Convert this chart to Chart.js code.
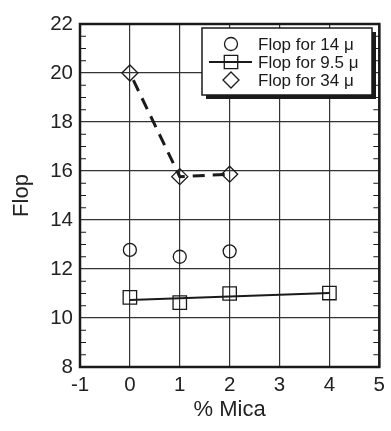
<!DOCTYPE html>
<html>
<head>
<meta charset="UTF-8">
<title>Flop vs % Mica</title>
<script src="https://cdn.jsdelivr.net/npm/chart.js"></script>
<style>
  body { margin: 0; background: #fff; }
  canvas { display: block; }
</style>
</head>
<body>
<canvas id="flopChart" width="391" height="431"></canvas>
<script>
// values
const mica14 = [0, 1, 2];
const flop14 = [12.78, 12.5, 12.72];
const mica95 = [0, 1, 2, 4];
const flop95 = [10.84, 10.63, 11.0, 11.02];
const micaFit95 = [0, 4];
const flopFit95 = [10.73, 11.02];
const mica34 = [0, 1, 2];
const flop34 = [20.0, 15.77, 15.87];

const xTicks = [-1, 0, 1, 2, 3, 4, 5];
const yTicks = [8, 10, 12, 14, 16, 18, 20, 22];
const yMinorStep = 0.5;

const ink = '#1a1a1a';
const face = '"Liberation Sans", Arial, sans-serif';
const pts = (xs, ys) => xs.map((x, i) => ({ x: x, y: ys[i] }));

// inward minor ticks + heavy frame round the plot
const frame = {
  id: 'frame',
  beforeDatasetsDraw(chart) {
    const { ctx, chartArea: a, scales: { y } } = chart;
    ctx.save();
    ctx.strokeStyle = ink;
    ctx.lineWidth = 1.2;
    for (let v = yTicks[0]; v <= yTicks[yTicks.length - 1]; v += yMinorStep) {
      if (yTicks.includes(v)) continue;
      const py = y.getPixelForValue(v);
      ctx.beginPath();
      ctx.moveTo(a.left, py); ctx.lineTo(a.left + 6, py);
      ctx.moveTo(a.right - 6, py); ctx.lineTo(a.right, py);
      ctx.stroke();
    }
    ctx.lineWidth = 2.5;
    ctx.strokeRect(a.left, a.top, a.right - a.left, a.bottom - a.top);
    ctx.restore();
  }
};

function symbol(ctx, style, x, y, r) {
  ctx.beginPath();
  if (style === 'circle') {
    ctx.arc(x, y, r, 0, Math.PI * 2);
  } else if (style === 'rect') {
    const s = r * Math.SQRT1_2;
    ctx.rect(x - s, y - s, 2 * s, 2 * s);
  } else {
    ctx.moveTo(x, y - r); ctx.lineTo(x + r, y); ctx.lineTo(x, y + r); ctx.lineTo(x - r, y); ctx.closePath();
  }
  ctx.stroke();
}

// boxed legend with drop shadow, upper right
const boxLegend = {
  id: 'boxLegend',
  afterDraw(chart) {
    const { ctx, chartArea: a } = chart;
    const bx = a.left + 122, by = a.top + 4, bw = 170, bh = 67;
    ctx.save();
    ctx.fillStyle = ink;
    ctx.fillRect(bx + 4, by + 4, bw, bh);
    ctx.fillStyle = '#fff';
    ctx.fillRect(bx, by, bw, bh);
    ctx.strokeStyle = ink;
    ctx.lineWidth = 1.5;
    ctx.strokeRect(bx, by, bw, bh);

    const entries = chart.data.datasets.filter(d => d.inLegend);
    ctx.font = '17px ' + face;
    ctx.textBaseline = 'middle';
    entries.forEach((d, i) => {
      const cy = by + 16 + i * 18;
      const cx = bx + 29;
      if (d.legendLine) {
        ctx.strokeStyle = ink;
        ctx.lineWidth = 2;
        ctx.beginPath();
        ctx.moveTo(bx + 7, cy); ctx.lineTo(bx + 50, cy);
        ctx.stroke();
      }
      ctx.strokeStyle = ink;
      ctx.lineWidth = 1.3;
      symbol(ctx, d.pointStyle, cx, cy, d.pointRadius);
      ctx.fillStyle = ink;
      ctx.fillText(d.label, bx + 56, cy + 1);
    });
    ctx.restore();
  }
};

new Chart(document.getElementById('flopChart'), {
  type: 'scatter',
  data: {
    datasets: [
      {
        label: 'Flop for 14 μ',
        inLegend: true,
        data: pts(mica14, flop14),
        pointStyle: 'circle',
        pointRadius: 6.5,
        borderColor: ink,
        borderWidth: 1.3,
        backgroundColor: 'rgba(0,0,0,0)',
        showLine: false
      },
      {
        label: 'fit 9.5',
        data: pts(micaFit95, flopFit95),
        showLine: true,
        borderColor: ink,
        borderWidth: 2,
        pointRadius: 0
      },
      {
        label: 'Flop for 9.5 μ',
        inLegend: true,
        legendLine: true,
        data: pts(mica95, flop95),
        pointStyle: 'rect',
        pointRadius: 9.5,
        borderColor: ink,
        borderWidth: 1.3,
        backgroundColor: 'rgba(0,0,0,0)',
        showLine: false
      },
      {
        label: 'Flop for 34 μ',
        inLegend: true,
        data: pts(mica34, flop34),
        pointStyle: 'rectRot',
        pointRadius: 8,
        borderColor: ink,
        borderWidth: 1.3,
        backgroundColor: 'rgba(0,0,0,0)',
        showLine: true,
        borderDash: [12, 8],
        borderDashOffset: 12,
        segment: { borderWidth: 3 }
      }
    ]
  },
  options: {
    responsive: false,
    animation: false,
    devicePixelRatio: 1,
    layout: { padding: { top: 24, right: 8, left: 0, bottom: 0 } },
    plugins: { legend: { display: false }, tooltip: { enabled: false } },
    scales: {
      x: {
        type: 'linear',
        min: xTicks[0],
        max: xTicks[xTicks.length - 1],
        afterBuildTicks: s => { s.ticks = xTicks.map(v => ({ value: v })); },
        afterFit: s => { s.height = 64; },
        grid: { color: '#333', lineWidth: 1.2, drawTicks: false },
        border: { display: false },
        ticks: { color: '#222', padding: 6, font: { size: 20.5, family: face } },
        title: {
          display: true,
          text: '% Mica',
          color: '#222',
          padding: { top: 0, bottom: 8 },
          font: { size: 22, family: face }
        }
      },
      y: {
        type: 'linear',
        min: yTicks[0],
        max: yTicks[yTicks.length - 1],
        afterBuildTicks: s => { s.ticks = yTicks.map(v => ({ value: v })); },
        afterFit: s => { s.width = 80; },
        grid: { color: '#333', lineWidth: 1.2, drawTicks: false },
        border: { display: false },
        ticks: { color: '#222', padding: 7, font: { size: 20.5, family: face } },
        title: {
          display: true,
          text: 'Flop',
          color: '#222',
          padding: { top: 9, bottom: 0 },
          font: { size: 22, family: face }
        }
      }
    }
  },
  plugins: [frame, boxLegend]
});
</script>
</body>
</html>
